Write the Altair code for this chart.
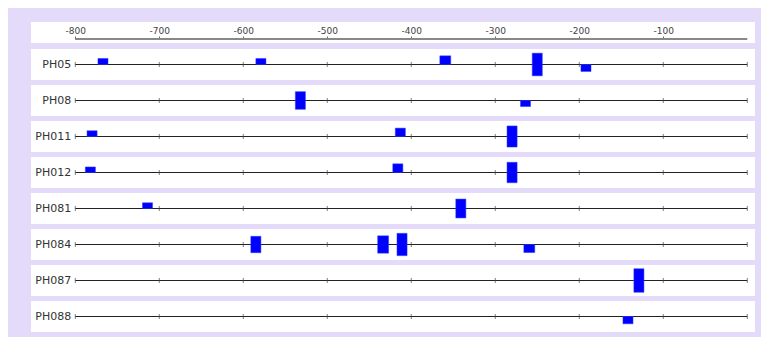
import altair as alt
import pandas as pd

# ---- data ----
genes = ["PH05", "PH08", "PH011", "PH012", "PH081", "PH084", "PH087", "PH088"]
axis_ticks = [-800, -700, -600, -500, -400, -300, -200, -100]
row_ticks = [-800, -700, -600, -500, -400, -300, -200, -100, 0]

site_gene = ["PH05", "PH05", "PH05", "PH05", "PH05",
             "PH08", "PH08",
             "PH011", "PH011", "PH011",
             "PH012", "PH012", "PH012",
             "PH081", "PH081",
             "PH084", "PH084", "PH084", "PH084",
             "PH087",
             "PH088"]
site_start = [-773, -585, -366, -256, -198,
              -538, -270,
              -786, -419, -286,
              -788, -422, -286,
              -720, -347,
              -591, -440, -417, -266,
              -135,
              -148]
site_end = [-761, -573, -353, -244, -186,
            -526, -258,
            -774, -407, -274,
            -776, -410, -274,
            -708, -335,
            -579, -427, -405, -253,
            -123,
            -136]
site_strand = ["+", "+", "+", "both", "-",
               "both", "-",
               "+", "+", "both",
               "+", "+", "both",
               "+", "both",
               "both", "both", "both", "-",
               "both",
               "-"]
site_score = [0.39, 0.39, 0.56, 0.73, 0.45,
              0.57, 0.39,
              0.37, 0.54, 0.68,
              0.36, 0.56, 0.66,
              0.37, 0.61,
              0.53, 0.56, 0.72, 0.52,
              0.76,
              0.47]

sites = pd.DataFrame({
    "gene": site_gene, "start": site_start, "end": site_end,
    "strand": site_strand, "score": site_score,
})

W = 724
ROW_H = 31
xscale = alt.Scale(domain=[-852.7, 9.2], nice=False, zero=False)
yscale = alt.Scale(domain=[-1, 1], nice=False, zero=False)

# ---- top axis panel ----
top_axis = alt.Chart(pd.DataFrame({"t": axis_ticks})).mark_tick(opacity=0).encode(
    x=alt.X("t:Q", scale=xscale, title=None,
            axis=alt.Axis(orient="top", offset=-17, values=axis_ticks,
                          labelExpr="'' + datum.value", labelFlush=False,
                          labelFontSize=9, labelColor="#444", labelFont="DejaVu Sans",
                          labelPadding=1, domain=False,
                          tickColor="#666", tickSize=3, grid=False)),
    y=alt.value(10),
)
top_line = alt.Chart(pd.DataFrame({"a": [0]})).mark_rule(color="#888", strokeWidth=2).encode(
    x=alt.X(datum=-800, scale=xscale),
    x2=alt.X2(datum=0),
    y=alt.value(17),
)
top = alt.layer(top_axis, top_line).properties(width=W, height=21)


def row_chart(g):
    d = sites[sites["gene"] == g]
    line = alt.Chart(pd.DataFrame({"gene": [g]})).mark_rule(color="#222", strokeWidth=1).encode(
        x=alt.X(datum=-800, scale=xscale, axis=None),
        x2=alt.X2(datum=0),
        y=alt.value(ROW_H / 2),
    )
    ticks = alt.Chart(pd.DataFrame({"t": row_ticks})).mark_tick(
        color="#444", size=5, thickness=1).encode(
        x=alt.X("t:Q", scale=xscale, axis=None),
        y=alt.value(ROW_H / 2),
    )
    label = alt.Chart(pd.DataFrame({"gene": [g]})).mark_text(
        align="right", baseline="middle", dx=-4, fontSize=11,
        font="DejaVu Sans", color="#333").encode(
        x=alt.X(datum=-800, scale=xscale, axis=None),
        y=alt.value(ROW_H / 2),
        text="gene:N",
    )
    boxes = alt.Chart(d).transform_calculate(
        lo="datum.strand == '+' ? 0 : -datum.score",
        hi="datum.strand == '-' ? 0 : datum.score",
    ).mark_rect(color="#0000FF", stroke="#2a3cff", strokeWidth=0.5).encode(
        x=alt.X("start:Q", scale=xscale, axis=None),
        x2="end:Q",
        y=alt.Y("lo:Q", scale=yscale, axis=None),
        y2="hi:Q",
    )
    return alt.layer(line, ticks, boxes, label).properties(width=W, height=ROW_H)


rows = alt.vconcat(*[row_chart(g) for g in genes], spacing=5)

chart = alt.vconcat(top, rows, spacing=6).properties(
    background="#E4DAFA",
    padding={"left": 23, "top": 14, "right": 6, "bottom": 5},
).configure_view(fill="white", strokeWidth=0).configure_concat(spacing=5)

chart.save("out.html", embed_options={"renderer": "svg", "actions": False})
